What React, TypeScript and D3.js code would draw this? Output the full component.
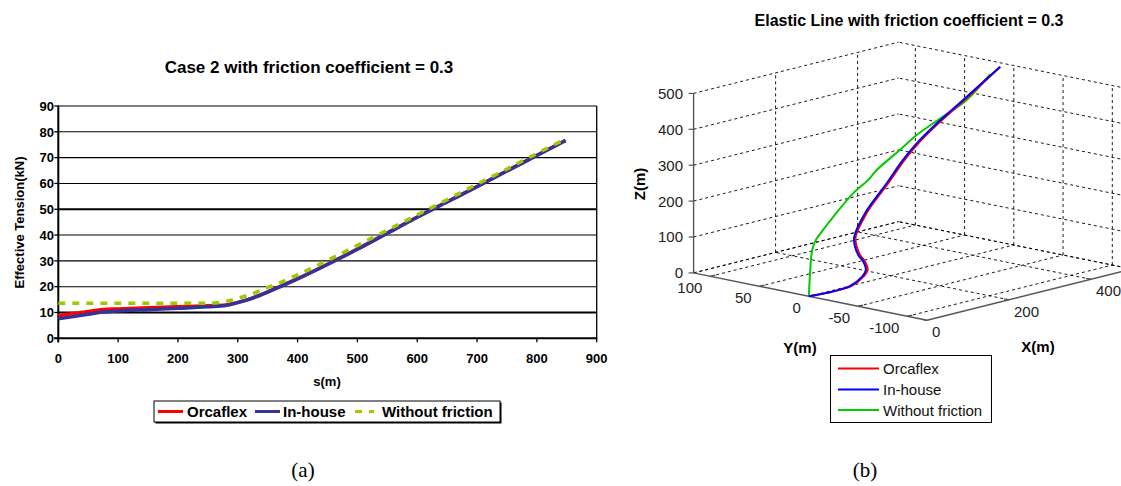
import React, { useRef, useEffect } from 'react';
import * as d3 from 'd3';

// ---- panel (a): effective tension along the line ----
const sDist = [0, 25, 50, 75, 100, 150, 200, 250, 280, 300, 325, 350, 375, 400, 450, 500, 550, 600, 650, 700, 750, 800, 848];
const orcaflex = [8.7, 9.6, 10.4, 11.2, 11.4, 11.8, 12.2, 12.6, 12.9, 13.9, 15.7, 18.0, 20.5, 23.1, 28.7, 34.6, 40.8, 47.0, 52.9, 58.8, 64.9, 70.9, 76.7];
const inHouse = [7.6, 8.4, 9.3, 10.2, 10.6, 11.1, 11.6, 12.2, 12.7, 13.8, 15.6, 17.9, 20.4, 23.0, 28.6, 34.5, 40.7, 46.9, 52.8, 58.7, 64.8, 70.8, 76.6];
const withoutFriction = [13.6, 13.6, 13.6, 13.6, 13.6, 13.6, 13.6, 13.6, 14.3, 15.5, 17.3, 19.7, 22.0, 24.6, 30.2, 36.0, 41.9, 47.8, 53.7, 59.7, 65.6, 71.6, 77.2];
const tensionTicks = [0, 10, 20, 30, 40, 50, 60, 70, 80, 90];
const sTicks = [0, 100, 200, 300, 400, 500, 600, 700, 800, 900];
const seriesNames = ['Orcaflex', 'In-house', 'Without friction'];

// ---- panel (b): 3D elastic line, [X, Y, Z] in metres ----
const orcaflex3d = [
  [0, 0, 0], [101, -1, 0], [164, 13, 0], [206, 26, 0], [231, 39, 9], [243, 49, 18], [249, 55, 37],
  [251, 57, 62], [273, 55, 123], [289, 50, 167], [301, 45, 203], [322, 37, 267], [341, 31, 311],
  [364, 24, 354], [415, 11, 431], [486, 8, 496]
];
const inHouse3d = [
  [0, 0, 0], [100, 0, 0], [163, 14, 0], [204, 27, 0], [229, 40, 9], [241, 50, 18], [247, 56, 37],
  [250, 58, 62], [272, 56, 123], [288, 51, 167], [300, 46, 203], [321, 38, 267], [340, 32, 311],
  [363, 25, 354], [414, 12, 431], [486, 8, 496]
];
const withoutFriction3d = [
  [0, 0, 0], [3, 0, 63], [7, 0, 118], [15, 0, 148], [35, 0, 175], [60, 0, 205], [108, 0, 256],
  [145, 0, 283], [166, 0, 305], [222, 0, 344], [263, 0, 374], [327, 0, 407], [385, 0, 437], [442, 0, 493]
];
const xTicks3d = [0, 200, 400];
const yTicks3d = [-100, -50, 0, 50, 100];
const zTicks3d = [0, 100, 200, 300, 400, 500];
const xLim3d = [0, 500];
const yLim3d = [-120, 117];
const zLim3d = [0, 500];

const SANS = "'Liberation Sans', Arial, sans-serif";
const SERIF = "'Liberation Serif', 'Times New Roman', serif";

const App = () => {
  const svgRef = useRef(null);

  useEffect(() => {
    const svg = d3.select(svgRef.current);
    svg.selectAll('*').remove();

    svg.append('rect').attr('width', 1121).attr('height', 486).attr('fill', 'white');

    // ================= (a) =================
    const x = d3.scaleLinear().domain([0, 900]).range([58.3, 596.7]);
    const y = d3.scaleLinear().domain([0, 90]).range([338.3, 106]);
    const a = svg.append('g');

    // horizontal gridlines
    a.selectAll('.grid')
      .data(tensionTicks.filter(t => t > 0))
      .enter()
      .append('line')
      .attr('x1', x(0))
      .attr('x2', x(900))
      .attr('y1', d => y(d))
      .attr('y2', d => y(d))
      .attr('stroke', '#000')
      .attr('stroke-width', d => (d === 10 || d === 50 ? 2 : 1.1));

    // right border
    a.append('line')
      .attr('x1', x(900)).attr('x2', x(900))
      .attr('y1', y(90)).attr('y2', y(0))
      .attr('stroke', '#000').attr('stroke-width', 1.3);

    // axes
    a.append('line')
      .attr('x1', x(0)).attr('x2', x(0))
      .attr('y1', y(90) - 0.5).attr('y2', y(0) + 4)
      .attr('stroke', '#000').attr('stroke-width', 2);
    a.append('line')
      .attr('x1', x(0) - 4).attr('x2', x(900) + 0.5)
      .attr('y1', y(0)).attr('y2', y(0))
      .attr('stroke', '#000').attr('stroke-width', 2);

    a.selectAll('.ytick')
      .data(tensionTicks)
      .enter()
      .append('line')
      .attr('x1', x(0) - 4).attr('x2', x(0))
      .attr('y1', d => y(d)).attr('y2', d => y(d))
      .attr('stroke', '#000').attr('stroke-width', 1.3);
    a.selectAll('.xtick')
      .data(sTicks)
      .enter()
      .append('line')
      .attr('x1', d => x(d)).attr('x2', d => x(d))
      .attr('y1', y(0)).attr('y2', y(0) + 4)
      .attr('stroke', '#000').attr('stroke-width', 1.3);

    a.selectAll('.ylab')
      .data(tensionTicks)
      .enter()
      .append('text')
      .attr('x', 54)
      .attr('y', d => y(d) + 4.7)
      .attr('text-anchor', 'end')
      .style('font', `bold 13px ${SANS}`)
      .text(d => d);
    a.selectAll('.xlab')
      .data(sTicks)
      .enter()
      .append('text')
      .attr('x', d => x(d))
      .attr('y', 363)
      .attr('text-anchor', 'middle')
      .style('font', `bold 13px ${SANS}`)
      .text(d => d);

    a.append('text')
      .attr('x', 309).attr('y', 72.5)
      .attr('text-anchor', 'middle')
      .style('font', `bold 17px ${SANS}`)
      .text('Case 2 with friction coefficient = 0.3');
    a.append('text')
      .attr('x', 327).attr('y', 386)
      .attr('text-anchor', 'middle')
      .style('font', `bold 13px ${SANS}`)
      .text('s(m)');
    a.append('text')
      .attr('transform', 'translate(23.5,222.5) rotate(-90)')
      .attr('text-anchor', 'middle')
      .style('font', `bold 13px ${SANS}`)
      .text('Effective Tension(kN)');

    const line2d = d3.line()
      .x((d, i) => x(sDist[i]))
      .y(d => y(d))
      .curve(d3.curveMonotoneX);

    a.append('path').datum(orcaflex).attr('d', line2d)
      .attr('fill', 'none').attr('stroke', '#FF0000').attr('stroke-width', 3.5);
    a.append('path').datum(inHouse).attr('d', line2d)
      .attr('fill', 'none').attr('stroke', '#333399').attr('stroke-width', 3.5);
    a.append('path').datum(withoutFriction).attr('d', line2d)
      .attr('fill', 'none').attr('stroke', '#99CC00').attr('stroke-width', 3.5)
      .attr('stroke-dasharray', '7,7');

    // legend (a)
    const la = a.append('g');
    la.append('rect')
      .attr('x', 155.5).attr('y', 402.5).attr('width', 346).attr('height', 21)
      .attr('fill', '#000');
    la.append('rect')
      .attr('x', 154).attr('y', 401).attr('width', 346).attr('height', 21)
      .attr('fill', 'white').attr('stroke', '#000').attr('stroke-width', 1);
    const legA = [
      { x0: 158, x1: 183, tx: 187, color: '#FF0000', dash: null },
      { x0: 255, x1: 280, tx: 283, color: '#333399', dash: null },
      { x0: 355, x1: 374, tx: 382, color: '#99CC00', dash: '7,7' }
    ];
    legA.forEach((l, i) => {
      la.append('line')
        .attr('x1', l.x0).attr('x2', l.x1).attr('y1', 411.5).attr('y2', 411.5)
        .attr('stroke', l.color).attr('stroke-width', 3)
        .attr('stroke-dasharray', l.dash);
      la.append('text')
        .attr('x', l.tx).attr('y', 417)
        .style('font', `bold 15px ${SANS}`)
        .text(seriesNames[i]);
    });

    // ================= (b) =================
    const b = svg.append('g');
    const front = [927, 320.3];
    const pX = d3.scaleLinear().domain(xLim3d).range([0, 205]);
    const pXy = d3.scaleLinear().domain(xLim3d).range([0, -51.25]);
    const pY = d3.scaleLinear().domain(yLim3d).range([0, -233.4]);
    const pYy = d3.scaleLinear().domain(yLim3d).range([0, -47.4]);
    const pZ = d3.scaleLinear().domain(zLim3d).range([0, -179.5]);
    const project = ([px, py, pz]) => [
      front[0] + pX(px) + pY(py),
      front[1] + pXy(px) + pYy(py) + pZ(pz)
    ];

    const [x0, x1] = xLim3d;
    const [y0, y1] = yLim3d;
    const [z0, z1] = zLim3d;
    const gridSegs = [];
    // floor
    xTicks3d.filter(t => t > x0).forEach(t => gridSegs.push([[t, y0, z0], [t, y1, z0]]));
    yTicks3d.forEach(t => gridSegs.push([[x0, t, z0], [x1, t, z0]]));
    gridSegs.push([[x1, y0, z0], [x1, y1, z0]]);
    gridSegs.push([[x0, y1, z0], [x1, y1, z0]]);
    // back-left wall (Y = max)
    xTicks3d.filter(t => t > x0).forEach(t => gridSegs.push([[t, y1, z0], [t, y1, z1]]));
    zTicks3d.forEach(t => gridSegs.push([[x0, y1, t], [x1, y1, t]]));
    // back-right wall (X = max)
    yTicks3d.forEach(t => gridSegs.push([[x1, t, z0], [x1, t, z1]]));
    zTicks3d.forEach(t => gridSegs.push([[x1, y0, t], [x1, y1, t]]));

    b.selectAll('.g3')
      .data(gridSegs)
      .enter()
      .append('line')
      .attr('x1', d => project(d[0])[0])
      .attr('y1', d => project(d[0])[1])
      .attr('x2', d => project(d[1])[0])
      .attr('y2', d => project(d[1])[1])
      .attr('stroke', '#000')
      .attr('stroke-width', 0.9)
      .attr('stroke-dasharray', '3,3');

    // axis lines
    const axisSegs = [
      [[x0, y1, z0], [x0, y1, z1]],
      [[x0, y1, z0], [x0, y0, z0]],
      [[x0, y0, z0], [x1, y0, z0]]
    ];
    b.selectAll('.ax3')
      .data(axisSegs)
      .enter()
      .append('line')
      .attr('x1', d => project(d[0])[0])
      .attr('y1', d => project(d[0])[1])
      .attr('x2', d => project(d[1])[0])
      .attr('y2', d => project(d[1])[1])
      .attr('stroke', '#555')
      .attr('stroke-width', 1.4);

    // ticks
    zTicks3d.forEach(t => {
      const p = project([x0, y1, t]);
      b.append('line').attr('x1', p[0] - 5).attr('x2', p[0]).attr('y1', p[1]).attr('y2', p[1])
        .attr('stroke', '#555').attr('stroke-width', 1.2);
      b.append('text').attr('x', 683).attr('y', p[1]).attr('dy', '0.36em')
        .attr('text-anchor', 'end').attr('fill', '#222')
        .style('font', `15px ${SANS}`).text(t);
    });
    yTicks3d.forEach(t => {
      const p = project([x0, t, z0]);
      const q = project([x0 + 12, t, z0]);
      b.append('line').attr('x1', p[0]).attr('y1', p[1]).attr('x2', q[0]).attr('y2', q[1])
        .attr('stroke', '#555').attr('stroke-width', 1.2);
      b.append('text').attr('x', p[0] - 8).attr('y', p[1] + 17)
        .attr('text-anchor', 'end').attr('fill', '#222')
        .style('font', `15px ${SANS}`).text(t);
    });
    xTicks3d.forEach(t => {
      const p = project([t, y0, z0]);
      const q = project([t, y0 + 5, z0]);
      b.append('line').attr('x1', p[0]).attr('y1', p[1]).attr('x2', q[0]).attr('y2', q[1])
        .attr('stroke', '#555').attr('stroke-width', 1.2);
      b.append('text').attr('x', p[0] + 5).attr('y', p[1] + 17)
        .attr('text-anchor', 'start').attr('fill', '#222')
        .style('font', `15px ${SANS}`).text(t);
    });

    b.append('text')
      .attr('x', 909).attr('y', 26)
      .attr('text-anchor', 'middle')
      .style('font', `bold 16px ${SANS}`)
      .text('Elastic Line with friction coefficient = 0.3');
    b.append('text')
      .attr('transform', 'translate(645,184) rotate(-90)')
      .attr('text-anchor', 'middle')
      .style('font', `bold 15px ${SANS}`)
      .text('Z(m)');
    b.append('text')
      .attr('x', 800).attr('y', 352.5)
      .attr('text-anchor', 'middle')
      .style('font', `bold 15px ${SANS}`)
      .text('Y(m)');
    b.append('text')
      .attr('x', 1038).attr('y', 352)
      .attr('text-anchor', 'middle')
      .style('font', `bold 15px ${SANS}`)
      .text('X(m)');

    const line3d = d3.line()
      .x(d => project(d)[0])
      .y(d => project(d)[1])
      .curve(d3.curveCatmullRom.alpha(0.5));

    b.append('path').datum(withoutFriction3d).attr('d', line3d)
      .attr('fill', 'none').attr('stroke', '#00CC00').attr('stroke-width', 2);
    b.append('path').datum(orcaflex3d).attr('d', line3d)
      .attr('fill', 'none').attr('stroke', '#FF0000').attr('stroke-width', 2);
    b.append('path').datum(inHouse3d).attr('d', line3d)
      .attr('fill', 'none').attr('stroke', '#0000FF').attr('stroke-width', 2);

    // legend (b)
    const lb = b.append('g');
    lb.append('rect')
      .attr('x', 830.5).attr('y', 355.5).attr('width', 161).attr('height', 67)
      .attr('fill', 'white').attr('stroke', '#000').attr('stroke-width', 1);
    const legB = [
      { y: 368.5, color: '#FF0000' },
      { y: 389.5, color: '#0000FF' },
      { y: 410, color: '#00CC00' }
    ];
    legB.forEach((l, i) => {
      lb.append('line')
        .attr('x1', 838).attr('x2', 879).attr('y1', l.y).attr('y2', l.y)
        .attr('stroke', l.color).attr('stroke-width', 2);
      lb.append('text')
        .attr('x', 883).attr('y', l.y + 5.5)
        .attr('fill', '#111')
        .style('font', `15px ${SANS}`)
        .text(seriesNames[i]);
    });

    // captions
    svg.append('text')
      .attr('x', 303).attr('y', 477)
      .attr('text-anchor', 'middle')
      .style('font', `21px ${SERIF}`)
      .text('(a)');
    svg.append('text')
      .attr('x', 865).attr('y', 477)
      .attr('text-anchor', 'middle')
      .style('font', `21px ${SERIF}`)
      .text('(b)');
  }, []);

  return (
    <svg
      ref={svgRef}
      width={1121}
      height={486}
      style={{ position: 'absolute', left: 0, top: 0, display: 'block' }}
    />
  );
};

export default App;
